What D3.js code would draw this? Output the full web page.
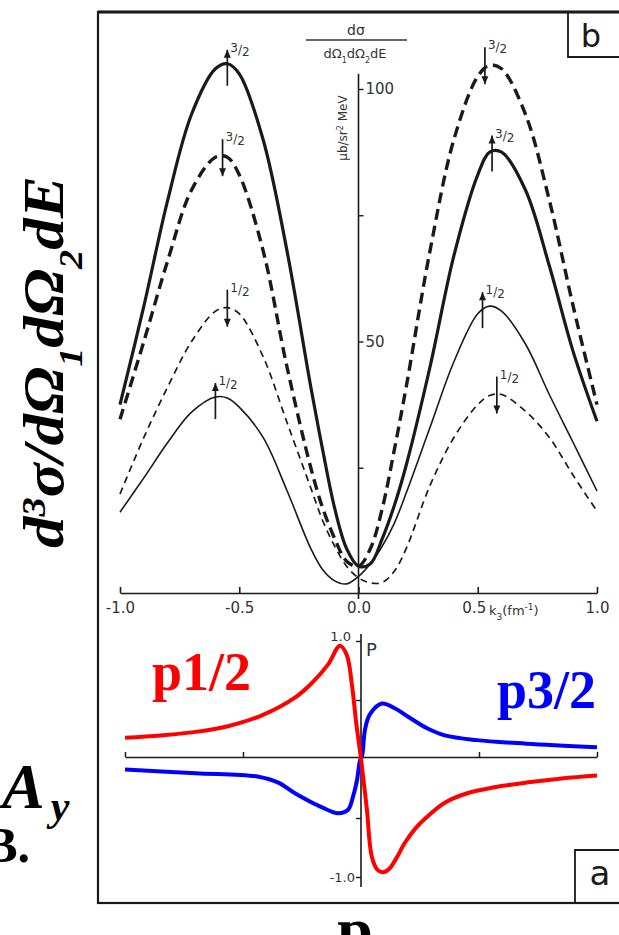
<!DOCTYPE html>
<html>
<head>
<meta charset="utf-8">
<script src="https://cdn.jsdelivr.net/npm/d3@7"></script>
<style>
  body { margin: 0; background: #fff; }
  svg { display: block; }
</style>
</head>
<body>
<script>
// ---- panel b : cross section vs k3 (fm^-1) ----
var kTop = [-1.0, -0.9, -0.8, -0.7, -0.6, -0.55, -0.5, -0.4, -0.3, -0.2, -0.15, -0.1, -0.05, 0,
            0.05, 0.1, 0.15, 0.2, 0.3, 0.4, 0.5, 0.55, 0.6, 0.7, 0.8, 0.9, 1.0];
var thickSolid  = [37.5, 57, 78, 95, 104, 105, 103, 90, 68, 41, 28.5, 17, 9, 5.5,
                   6, 11, 17.5, 25.5, 45, 67, 83, 87.5, 87.5, 80, 65, 48, 34.2];
var thickDashed = [34.6, 50, 66, 80, 86.5, 86.5, 83, 68, 45, 25, 17, 11, 6.5, 5.5,
                   9, 17, 28.5, 41, 68, 90, 102.5, 104.7, 104, 95, 78, 57, 37.5];
var thinSolid   = [16.2, 23, 30, 36, 39, 38.8, 37, 31, 20.5, 9, 4.8, 2.6, 2, 3.5,
                   6, 9.5, 14, 20, 33, 46, 55.5, 57, 56, 49.5, 39.5, 30, 20.4];
var thinDashed  = [19.8, 31, 41, 50, 56, 56.7, 55.5, 47, 34, 21, 14.5, 9.5, 5.5, 3.2,
                   2.2, 2.3, 4.5, 9, 21.5, 31, 37.5, 39.3, 39.5, 36.2, 31, 23.5, 16.4];

// arrows marking the peaks
var peakK     = [-0.55, 0.53, -0.57, 0.56, -0.55, -0.6, 0.52, 0.58];
var peakV     = [105, 104.7, 86.5, 88, 56.7, 39, 57, 39.5];
var peakDir   = ["up", "down", "down", "up", "down", "up", "up", "down"];
var peakLabel = ["3/2", "3/2", "3/2", "3/2", "1/2", "1/2", "1/2", "1/2"];

var topTicks = [-1, -0.5, 0, 0.5, 1];
var topTickLabels = ["-1.0", "-0.5", "0.0", "0.5", "1.0"];
var yTicks = [25, 50, 75, 100];
var yTickLabels = ["", "50", "", "100"];

// ---- panel a : polarization P ----
var kRed = [-1.0, -0.85, -0.7, -0.56, -0.42, -0.28, -0.21, -0.14, -0.089, -0.06, -0.038, -0.02, 0,
            0.025, 0.046, 0.07, 0.093, 0.12, 0.15, 0.186, 0.23, 0.28, 0.355, 0.45, 0.565, 0.7, 0.85, 1.0];
var pRed = [0.18, 0.2, 0.23, 0.28, 0.37, 0.52, 0.64, 0.8, 0.96, 0.88, 0.62, 0.3, 0.0,
            -0.43, -0.83, -0.94, -0.96, -0.93, -0.84, -0.71, -0.59, -0.49, -0.37, -0.29, -0.24, -0.2, -0.165, -0.14];
var kBlue = [-1.0, -0.7, -0.435, -0.35, -0.28, -0.165, -0.097, -0.055, -0.034, -0.017, -0.004,
             0.004, 0.017, 0.038, 0.089, 0.143, 0.198, 0.28, 0.355, 0.49, 0.7, 1.0];
var pBlue = [-0.09, -0.12, -0.15, -0.2, -0.29, -0.41, -0.46, -0.43, -0.32, -0.18, -0.01,
             0.02, 0.25, 0.38, 0.47, 0.43, 0.36, 0.26, 0.2, 0.16, 0.13, 0.1];
var lowTicks = [-1, -0.5, 0.5, 1];
var pTicks = [-1, -0.5, 0.5, 1];

var width = 619, height = 935;
var ink = "#1a1a1a";

var svg = d3.select("body").append("svg")
  .attr("width", width)
  .attr("height", height);

// scales
var xTop = d3.scaleLinear().domain([-1, 1]).range([120, 597]);
var yTop = d3.scaleLinear().domain([0, 100]).range([594, 89]);
var xLow = d3.scaleLinear().domain([-1, 1]).range([125, 597]);
var yLow = d3.scaleLinear().domain([-1, 1]).range([877, 641]);

// frame
svg.append("rect")
  .attr("x", 98).attr("y", 12).attr("width", 530).attr("height", 891)
  .attr("fill", "none").attr("stroke", ink).attr("stroke-width", 2.2);
svg.append("line").attr("x1", 98).attr("x2", 619).attr("y1", 12).attr("y2", 12)
  .attr("stroke", ink).attr("stroke-width", 3);

// panel letters in boxes
svg.append("path").attr("d", "M568,12V57H620").attr("fill", "none").attr("stroke", ink).attr("stroke-width", 1.8);
svg.append("text").attr("x", 591).attr("y", 47).attr("text-anchor", "middle")
  .style("font-family", "DejaVu Sans").style("font-size", "32px").style("fill", ink).text("b");
svg.append("path").attr("d", "M575,903V850H620").attr("fill", "none").attr("stroke", ink).attr("stroke-width", 1.8);
svg.append("text").attr("x", 600).attr("y", 885).attr("text-anchor", "middle")
  .style("font-family", "DejaVu Sans").style("font-size", "34px").style("fill", ink).text("a");

// ---------- upper panel axes ----------
var xAxisTop = d3.axisBottom(xTop)
  .tickValues(topTicks)
  .tickFormat(function(d, i) { return topTickLabels[i]; })
  .tickSize(-6).tickSizeOuter(0).tickPadding(9);
var gx = svg.append("g")
  .attr("transform", "translate(0," + 593 + ")")
  .call(xAxisTop);
gx.selectAll("path, line").attr("stroke", ink).attr("stroke-width", 1.6);
gx.selectAll("text").style("font-family", "DejaVu Sans").style("font-size", "15px").attr("fill", "#333");
gx.selectAll(".tick text").filter(function(d) { return d === 0.5; }).attr("dx", "-4");

svg.append("text")
  .attr("x", 489).attr("y", 615)
  .style("font-family", "DejaVu Sans").style("font-size", "13px").attr("fill", "#333")
  .call(function(t) {
    t.append("tspan").text("k");
    t.append("tspan").attr("baseline-shift", "sub").style("font-size", "9px").text("3");
    t.append("tspan").text("(fm");
    t.append("tspan").attr("baseline-shift", "super").style("font-size", "9px").text("-1");
    t.append("tspan").text(")");
  });

svg.append("line")
  .attr("x1", xTop(0)).attr("x2", xTop(0))
  .attr("y1", yTop(103)).attr("y2", yTop(-1))
  .attr("stroke", ink).attr("stroke-width", 1.6);
var yAxisTop = d3.axisRight(yTop)
  .tickValues(yTicks)
  .tickFormat(function(d, i) { return yTickLabels[i]; })
  .tickSize(5).tickPadding(2);
var gy = svg.append("g")
  .attr("transform", "translate(" + xTop(0) + ",0)")
  .call(yAxisTop);
gy.select(".domain").remove();
gy.selectAll("line").attr("stroke", ink).attr("stroke-width", 1.4);
gy.selectAll("text").style("font-family", "DejaVu Sans").style("font-size", "15px").attr("fill", "#333");

// unit label
svg.append("text")
  .attr("transform", "translate(347,128) rotate(-90)")
  .attr("text-anchor", "middle")
  .style("font-family", "DejaVu Sans").style("font-size", "12px").attr("fill", "#333")
  .call(function(t) {
    t.append("tspan").text("μb/sr");
    t.append("tspan").attr("baseline-shift", "super").style("font-size", "8px").text("2");
    t.append("tspan").text(" MeV");
  });

// d sigma / dOmega1 dOmega2 dE
svg.append("text").attr("x", 356).attr("y", 35).attr("text-anchor", "middle")
  .style("font-family", "DejaVu Sans").style("font-size", "14px").attr("fill", "#333").text("dσ");
svg.append("line").attr("x1", 306).attr("x2", 407).attr("y1", 40).attr("y2", 40)
  .attr("stroke", "#333").attr("stroke-width", 1.4);
svg.append("text").attr("x", 355).attr("y", 58).attr("text-anchor", "middle")
  .style("font-family", "DejaVu Sans").style("font-size", "13px").attr("fill", "#333")
  .call(function(t) {
    t.append("tspan").text("dΩ");
    t.append("tspan").attr("baseline-shift", "sub").style("font-size", "8px").text("1");
    t.append("tspan").text("dΩ");
    t.append("tspan").attr("baseline-shift", "sub").style("font-size", "8px").text("2");
    t.append("tspan").text("dE");
  });

// ---------- upper panel curves ----------
var lineTop = d3.line()
  .x(function(d) { return xTop(d[0]); })
  .y(function(d) { return yTop(d[1]); })
  .curve(d3.curveCatmullRom.alpha(0.5));

var topSeries = [
  { values: thinSolid,   width: 1.6, dash: null },
  { values: thinDashed,  width: 1.7, dash: "7,5" },
  { values: thickSolid,  width: 3.2, dash: null },
  { values: thickDashed, width: 3.4, dash: "11,6" }
];
topSeries.forEach(function(s) {
  svg.append("path")
    .datum(d3.zip(kTop, s.values))
    .attr("d", lineTop)
    .attr("fill", "none")
    .attr("stroke", ink)
    .attr("stroke-width", s.width)
    .attr("stroke-dasharray", s.dash);
});

// peak arrows
var marks = svg.append("g");
peakK.forEach(function(k, i) {
  var x = xTop(k), y = yTop(peakV[i]);
  var top, bot, tip;
  if (peakDir[i] === "up") { top = y - 14; bot = y + 22; tip = top; }
  else { top = y - 18; bot = y + 19; tip = bot; }
  marks.append("line").attr("x1", x).attr("x2", x).attr("y1", top).attr("y2", bot)
    .attr("stroke", ink).attr("stroke-width", 1.7);
  var h = peakDir[i] === "up" ? 8 : -8;
  marks.append("path")
    .attr("d", "M" + x + "," + tip + "L" + (x - 3.5) + "," + (tip + h) + "L" + (x + 3.5) + "," + (tip + h) + "Z")
    .attr("fill", ink);
  var parts = peakLabel[i].split("/");
  marks.append("text").attr("x", x + 3).attr("y", top + 6)
    .style("font-family", "DejaVu Sans").style("font-size", "12px").attr("fill", "#333")
    .call(function(t) {
      t.append("tspan").attr("dy", -4).text(parts[0]);
      t.append("tspan").attr("dy", 2).text("/");
      t.append("tspan").attr("dy", 2).text(parts[1]);
    });
});

// ---------- lower panel axes ----------
var xAxisLow = d3.axisBottom(xLow)
  .tickValues(lowTicks)
  .tickFormat("")
  .tickSize(-5).tickSizeOuter(0);
var gxl = svg.append("g")
  .attr("transform", "translate(0," + 757 + ")")
  .call(xAxisLow);
gxl.selectAll("path, line").attr("stroke", ink).attr("stroke-width", 1.5);

svg.append("line")
  .attr("x1", xLow(0)).attr("x2", xLow(0))
  .attr("y1", 634).attr("y2", 887)
  .attr("stroke", ink).attr("stroke-width", 1.6);
var yAxisLow = d3.axisLeft(yLow).tickValues(pTicks).tickFormat("").tickSize(5);
var gyl = svg.append("g")
  .attr("transform", "translate(" + xLow(0) + ",0)")
  .call(yAxisLow);
gyl.select(".domain").remove();
gyl.selectAll("line").attr("stroke", ink).attr("stroke-width", 1.4);

svg.append("text").attr("x", 351).attr("y", yLow(1)).attr("text-anchor", "end")
  .style("font-family", "DejaVu Sans").style("font-size", "13px").attr("fill", "#333").text("1.0");
svg.append("text").attr("x", 355).attr("y", yLow(-1) + 5).attr("text-anchor", "end")
  .style("font-family", "DejaVu Sans").style("font-size", "13px").attr("fill", "#333").text("-1.0");
svg.append("text").attr("x", 366).attr("y", 656)
  .style("font-family", "DejaVu Sans").style("font-size", "18px").attr("fill", "#333").text("P");

// ---------- lower panel curves ----------
var lineLow = d3.line()
  .x(function(d) { return xLow(d[0]); })
  .y(function(d) { return yLow(d[1]); })
  .curve(d3.curveCatmullRom.alpha(0.5));

svg.append("path")
  .datum(d3.zip(kBlue, pBlue))
  .attr("d", lineLow)
  .attr("fill", "none").attr("stroke", "#0000ff").attr("stroke-width", 4);
svg.append("path")
  .datum(d3.zip(kRed, pRed))
  .attr("d", lineLow)
  .attr("fill", "none").attr("stroke", "#ff0000").attr("stroke-width", 4);

svg.append("text").attr("x", 152).attr("y", 690)
  .style("font-family", "Liberation Serif").style("font-weight", "bold").style("font-size", "54px")
  .attr("fill", "#ff0000").text("p1/2");
svg.append("text").attr("x", 497).attr("y", 708)
  .style("font-family", "Liberation Serif").style("font-weight", "bold").style("font-size", "54px")
  .attr("fill", "#0000ff").text("p3/2");

// ---------- labels outside the frame ----------
svg.append("text")
  .attr("transform", "translate(63,362) rotate(-90)")
  .attr("text-anchor", "middle")
  .attr("textLength", 372).attr("lengthAdjust", "spacingAndGlyphs")
  .style("font-family", "Liberation Serif").style("font-weight", "bold").style("font-style", "italic")
  .style("font-size", "56px").attr("fill", "#000")
  .call(function(t) {
    t.append("tspan").text("d");
    t.append("tspan").attr("baseline-shift", "super").style("font-size", "34px").text("3");
    t.append("tspan").text("σ/dΩ");
    t.append("tspan").attr("baseline-shift", "sub").style("font-size", "34px").text("1");
    t.append("tspan").text("dΩ");
    t.append("tspan").attr("baseline-shift", "sub").style("font-size", "34px").text("2");
    t.append("tspan").text("dE");
  });

svg.append("text").attr("x", 2).attr("y", 808)
  .style("font-family", "Liberation Serif").style("font-weight", "bold").style("font-style", "italic")
  .style("font-size", "64px").attr("fill", "#000")
  .call(function(t) {
    t.append("tspan").text("A");
    t.append("tspan").attr("dx", 6).attr("dy", 12).style("font-size", "42px").text("y");
  });
svg.append("text").attr("x", 30).attr("y", 862).attr("text-anchor", "end")
  .style("font-family", "Liberation Serif").style("font-weight", "bold")
  .style("font-size", "50px").attr("fill", "#000").text("B.");
svg.append("text").attr("x", 355).attr("y", 951).attr("text-anchor", "middle")
  .style("font-family", "Liberation Serif").style("font-weight", "bold")
  .style("font-size", "64px").attr("fill", "#000").text("p");
</script>
</body>
</html>
